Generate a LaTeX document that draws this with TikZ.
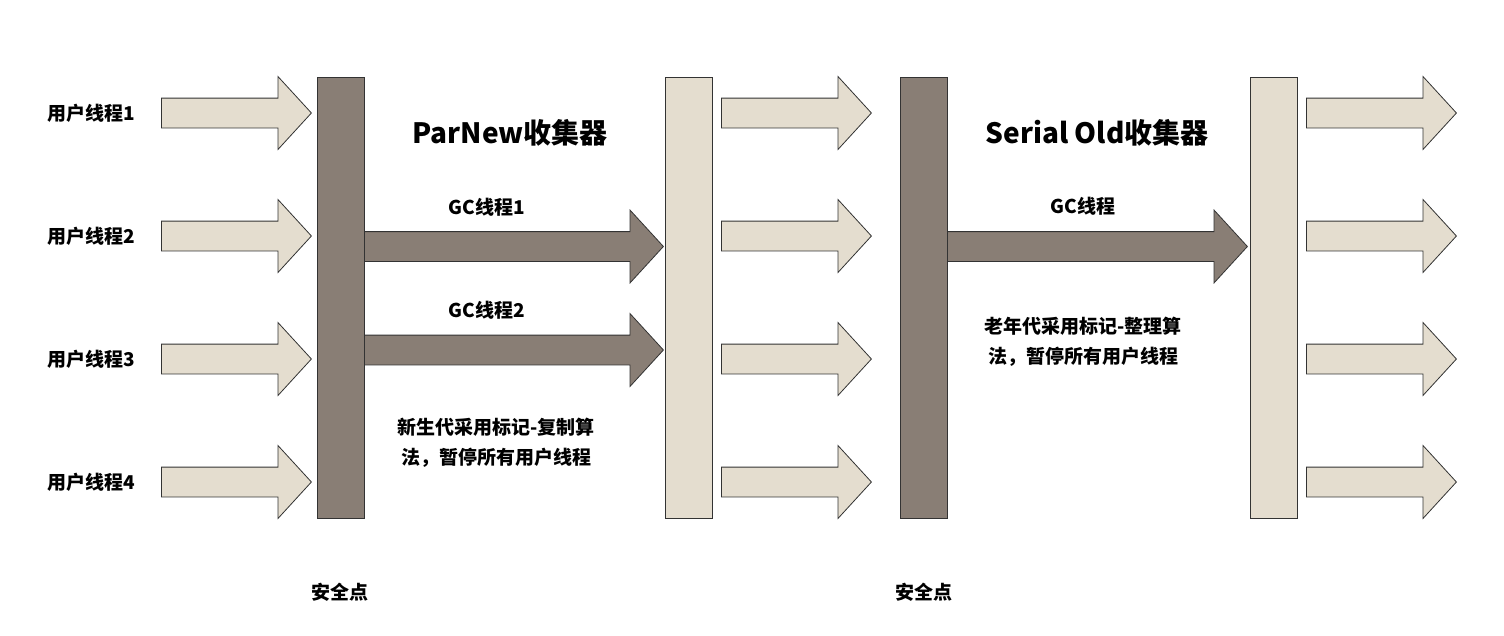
\documentclass[tikz,border=0pt]{standalone}
\usepackage{fontspec}
\setmainfont{Noto Sans CJK SC}
\usepackage{tikz}
\usetikzlibrary{shapes.arrows}
\definecolor{safedark}{RGB}{137, 126, 117}
\definecolor{threadlight}{RGB}{228, 221, 207}
\definecolor{edgegray}{RGB}{51, 51, 51}

\begin{document}
\begin{tikzpicture}[
  x=1pt, y=-1pt,
  blockarrow/.style={single arrow, draw=edgegray, line width=0.8pt, inner sep=0pt, inner ysep=14.5pt,
    single arrow head extend=21.5pt, single arrow tip angle=95, anchor=tail},
  userarrow/.style={blockarrow, fill=threadlight, minimum height=150pt},
  gcarrow/.style={blockarrow, fill=safedark, minimum height=299pt},
  bar/.style={draw=edgegray, line width=0.8pt, minimum width=47pt, minimum height=441pt, inner sep=0pt},
  threadtext/.style={font=\bfseries\fontsize{19}{30}\selectfont, inner sep=0pt},
  titletext/.style={font=\bfseries\fontsize{28}{34}\selectfont, inner sep=0pt},
]
\useasboundingbox (0, 0) rectangle (1504, 635);

% ==================== Safepoint bars ====================
\node[bar, fill=safedark] (sp1) at (340.5, 297.5) {};
\node[bar, fill=threadlight] (mid) at (688.5, 297.5) {};
\node[bar, fill=safedark] (sp2) at (924, 297.5) {};
\node[bar, fill=threadlight] (fin) at (1273.5, 297.5) {};

% ==================== User threads ====================
\foreach \y [count=\i] in {113, 236, 359, 482} {
  \node[userarrow] (ua\i) at (161, \y) {};
  \node[threadtext, anchor=west] (ul\i) at (47, \y) {用户线程\i};
  \node[userarrow] (ub\i) at (721, \y) {};
  \node[userarrow] (uc\i) at (1306, \y) {};
}

% ==================== ParNew ====================
\node[titletext] (parnew) at (510, 133) {ParNew收集器};
\node[gcarrow] (gc1) at (364, 246.5) {};
\node[threadtext] (gcl1) at (487, 207) {GC线程1};
\node[gcarrow] (gc2) at (364, 350) {};
\node[threadtext] (gcl2) at (487, 310) {GC线程2};
\node[threadtext, align=center] (young) at (496, 443) {新生代采用标记-复制算\\法，暂停所有用户线程};

% ==================== Serial Old ====================
\node[titletext] (serial) at (1097, 133) {Serial Old收集器};
\node[gcarrow, minimum height=300pt] (gc3) at (947, 246.5) {};
\node[threadtext] (gcl3) at (1083, 206) {GC线程};
\node[threadtext, align=center] (old) at (1083, 342) {老年代采用标记-整理算\\法，暂停所有用户线程};

% ==================== Safepoint labels ====================
\node[threadtext] (spl1) at (340, 592) {安全点};
\node[threadtext] (spl2) at (924, 592) {安全点};

\end{tikzpicture}
\end{document}
